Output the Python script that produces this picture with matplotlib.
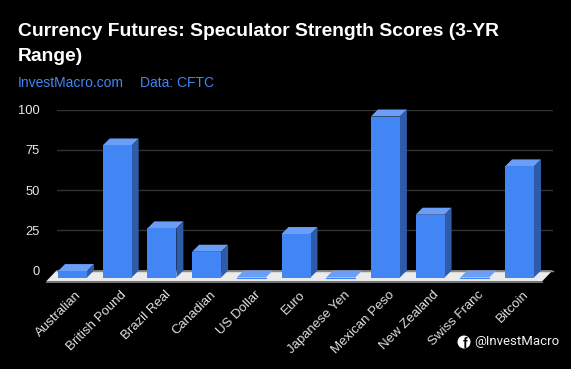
import matplotlib
matplotlib.use("Agg")
import matplotlib.pyplot as plt
from matplotlib.patches import Polygon, Ellipse

plt.rcParams['font.family'] = ['Liberation Sans', 'DejaVu Sans']

categories = ["Australian", "British Pound", "Brazil Real", "Canadian", "US Dollar", "Euro",
              "Japanese Yen", "Mexican Peso", "New Zealand", "Swiss Franc", "Bitcoin"]
scores = [4, 82, 30.5, 16, 0, 27, 0, 100, 39, 0, 69]
y_ticks = [0, 25, 50, 75, 100]

W, H = 571, 369
BLUE = "#4285f4"
TOP = "#6b9ef7"
SIDE = "#2e5ca8"

fig = plt.figure(figsize=(W / 100, H / 100), dpi=100, facecolor="black")

# axes = back wall of the fake 3D chart, bars sit 7px in front of it
left, right, top, bottom = 56.5, 552.5, 109.5, 270.5
ax = fig.add_axes([left / W, 1 - bottom / H, (right - left) / W, (bottom - top) / H])
ax.set_facecolor("black")
step = 44.7
ax.set_xlim((left - 79.5) / step, (right - 79.5) / step)
ax.set_ylim(0, 100)
for s in ax.spines.values():
    s.set_visible(False)

dx = 7 / step
dy = 7 / 1.61
half = 14.5 / step

ax.set_yticks(y_ticks)
ax.set_yticklabels([str(t) for t in y_ticks], color="#e8e8e8", fontsize=9.3)
ax.tick_params(axis="y", length=0, pad=12)
ax.grid(axis="y", color="#333333", lw=1)
ax.set_axisbelow(True)

positions = list(range(len(categories)))
ax.set_xticks([p - dx + 3 / step for p in positions])
ax.set_xticklabels(categories, rotation=45, ha="right", va="top", rotation_mode="anchor",
                   color="#e0e0e0", fontsize=9.5)
ax.tick_params(axis="x", length=0, pad=13)

# floor
x0, x1 = ax.get_xlim()
floor = [(x0, 0), (x1, 0), (x1 - 10.5 / step, -11 / 1.61), (x0 - 10.5 / step, -11 / 1.61)]
ax.add_patch(Polygon(floor, closed=True, fc="#ebebeb", ec="none", clip_on=False, zorder=2))
ax.plot([x0, x1], [0, 0], color="#8a8a8a", lw=1, clip_on=False, zorder=2.1)
ax.plot([x0 - 10.5 / step, x1 - 10.5 / step], [-11 / 1.61] * 2, color="#8a8a8a", lw=0.6,
        clip_on=False, zorder=2.1)

for p, v in zip(positions, scores):
    l, r = p - dx - half, p - dx + half
    b = -dy
    t = v - dy
    ax.add_patch(Polygon([(l, t), (r, t), (r + dx, t + dy), (l + dx, t + dy)],
                         fc=TOP, ec="none", clip_on=False, zorder=3))
    if v > 0:
        ax.add_patch(Polygon([(r, b), (r + dx, b + dy), (r + dx, t + dy), (r, t)],
                             fc=SIDE, ec="none", clip_on=False, zorder=3))
        ax.add_patch(Polygon([(l, b), (r, b), (r, t), (l, t)],
                             fc=BLUE, ec="none", clip_on=False, zorder=3))
    else:
        ax.plot([l, r], [b, b], color=BLUE, lw=0.8, clip_on=False, zorder=3.1)

fig.text(18 / W, 1 - 36 / H, "Currency Futures: Speculator Strength Scores (3-YR",
         color="white", fontsize=13.85, fontweight="bold", va="baseline")
fig.text(18 / W, 1 - 61 / H, "Range)", color="white", fontsize=13.85, fontweight="bold", va="baseline")
fig.text(18 / W, 1 - 87 / H, "InvestMacro.com", color=BLUE, fontsize=10, va="baseline")
fig.text(140 / W, 1 - 87 / H, "Data: CFTC", color=BLUE, fontsize=10, va="baseline")

# facebook handle, bottom right
fig.add_artist(Ellipse((464 / W, 1 - 342 / H), 13 / W, 13 / H, transform=fig.transFigure, fc="white", ec="none"))
fig.text(465 / W, 1 - 343.5 / H, "f", color="black", fontsize=10, fontweight="bold", ha="center", va="center")
fig.text(474.5 / W, 1 - 342 / H, "@InvestMacro", color="#f0f0f0", fontsize=9.5, family=["Roboto", "DejaVu Sans"],
         va="center")

fig.savefig("out.png", dpi=100, facecolor="black")
